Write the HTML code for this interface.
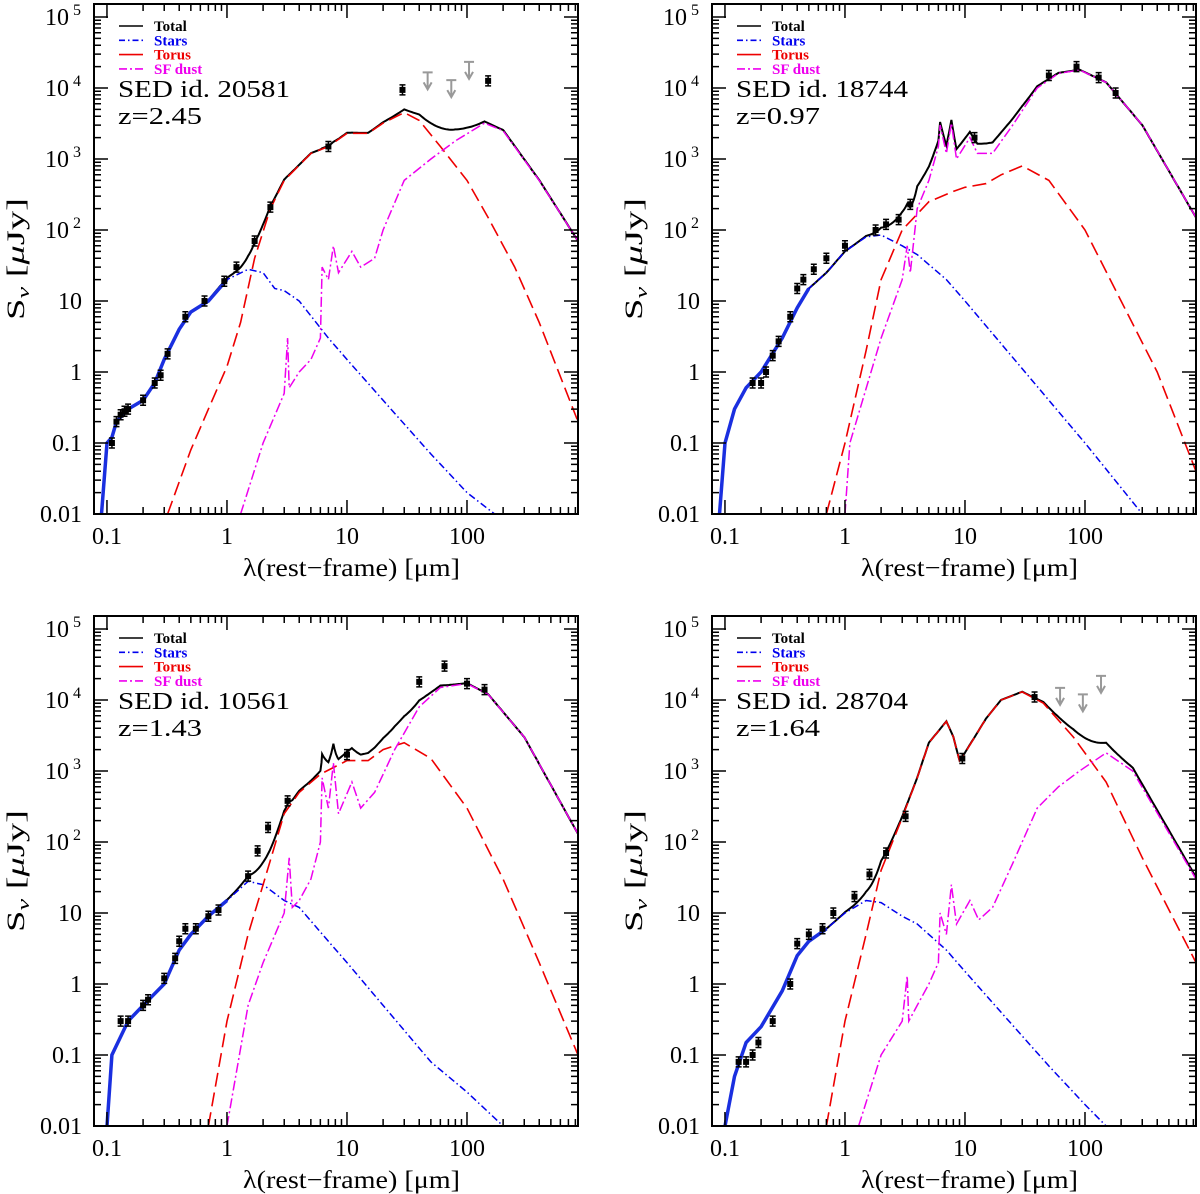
<!DOCTYPE html>
<html><head><meta charset="utf-8"><style>
html,body{margin:0;padding:0;background:#fff;}
svg{display:block;}
text{font-family:"Liberation Serif",serif;}
</style></head><body>
<svg id="chart" width="1200" height="1194" viewBox="0 0 1200 1194" xmlns="http://www.w3.org/2000/svg"></svg>
<script>
// ---------- data (lambda [um], flux [uJy]) ----------
const p1Stars=[[0.09,0.01],[0.1,0.1],[0.11,0.12],[0.12,0.2],[0.15,0.3],[0.2,0.4],[0.25,0.7],[0.3,1.5],[0.4,4],[0.5,7],[0.7,10],[1,20],[1.5,28],[2,25],[2.5,15],[3,14],[4,10],[7,3],[10,1.5],[20,0.4],[50,0.07],[100,0.02],[170,0.01]];
const p1Torus=[[0.32,0.01],[0.5,0.08],[0.7,0.3],[1,1.2],[1.3,5],[1.7,40],[2.3,200],[3,500],[5,1200],[7,1500],[10,2300],[15,2300],[20,3200],[30,4500],[40,3500],[60,1500],[100,500],[150,150],[250,30],[400,5],[841,0.2]];
const p1Dust=[[1.3,0.01],[2,0.1],[3,0.5],[3.2,3],[3.3,0.6],[4,1],[5,1.5],[6,3],[6.2,30],[7,20],[7.7,60],[8.5,25],[11,50],[13,30],[17,40],[20,100],[30,500],[50,1000],[80,1800],[140,3200],[200,2500],[400,500],[841,70]];
const p1Data=[[0.11,0.1],[0.12,0.2],[0.13,0.25],[0.14,0.28],[0.15,0.3],[0.2,0.4],[0.25,0.7],[0.28,0.9],[0.32,1.8],[0.45,6],[0.65,10],[0.95,19],[1.2,30],[1.7,70],[2.3,210],[7,1500],[29,9400],[150,12600]];
const p1Limits=[[47,16600],[74,12900],[104,23300]];

const p2Stars=[[0.09,0.01],[0.1,0.1],[0.12,0.3],[0.15,0.6],[0.2,1],[0.3,3],[0.4,8],[0.5,15],[0.7,25],[1,50],[1.5,80],[2,85],[3,60],[4,45],[7,20],[10,10],[20,2.5],[50,0.4],[100,0.1],[300,0.01]];
const p2Torus=[[0.7,0.01],[1,0.1],[1.5,2],[2,20],[3,100],[5,250],[8,350],[10,400],[15,450],[20,600],[30,800],[50,500],[100,100],[200,10],[400,1],[841,0.04]];
const p2Dust=[[1,0.01],[1.1,0.1],[2,3],[3,20],[3.3,60],[3.5,25],[4,200],[5,500],[6,1500],[6.2,3000],[7,1200],[7.7,3200],[8.5,1000],[11,2000],[12.7,1200],[17,1200],[25,3000],[40,10000],[60,16000],[90,18000],[150,12000],[300,3000],[841,150]];
const p2Data=[[0.17,0.7],[0.2,0.7],[0.22,1],[0.25,1.7],[0.28,2.7],[0.35,6],[0.4,15],[0.45,20],[0.55,28],[0.7,40],[1,60],[1.8,100],[2.2,120],[2.8,140],[3.5,230],[12,2000],[50,15000],[85,20000],[130,14000],[180,8500]];
const p2Limits=[];

const p3Stars=[[0.1,0.01],[0.11,0.1],[0.15,0.3],[0.2,0.5],[0.3,1],[0.4,3],[0.5,5],[0.7,9],[1,15],[1.5,28],[2,25],[3,15],[4,12],[7,4],[10,2],[20,0.5],[50,0.08],[100,0.03],[200,0.01]];
const p3Torus=[[0.7,0.01],[1,0.3],[1.5,5],[2,25],[3,250],[4,500],[6,900],[10,1400],[15,1400],[20,2000],[30,2500],[50,1500],[100,300],[200,30],[400,2],[841,0.1]];
const p3Dust=[[1,0.01],[1.5,0.5],[2,2],[3,10],[3.3,60],[3.5,12],[4,15],[5,30],[6,100],[6.2,800],[7,300],[7.7,1300],[8.5,250],[11,700],[13,300],[17,500],[25,2000],[40,8000],[60,15000],[100,17000],[150,12000],[300,3000],[841,130]];
const p3Data=[[0.13,0.3],[0.15,0.3],[0.2,0.5],[0.22,0.6],[0.3,1.2],[0.37,2.3],[0.4,4],[0.45,6],[0.55,6],[0.7,9],[0.85,11],[1.5,33],[1.8,75],[2.2,160],[3.2,380],[10,1700],[40,18000],[65,30000],[100,17000],[140,14000]];
const p3Limits=[];

const p4Stars=[[0.1,0.01],[0.12,0.05],[0.15,0.15],[0.2,0.25],[0.3,0.8],[0.4,2.5],[0.5,4],[0.7,6],[1,10],[1.5,15],[2,14],[3,9],[4,7],[7,3],[10,1.5],[20,0.4],[50,0.07],[100,0.02],[150,0.01]];
const p4Torus=[[0.7,0.01],[1,0.3],[1.5,5],[2,40],[3,220],[4,800],[5,2500],[7,5000],[8,3000],[9,1400],[10,1800],[15,5500],[20,10000],[30,13000],[45,9000],[80,3000],[150,700],[300,60],[841,2]];
const p4Dust=[[1.3,0.01],[2,0.1],[3,0.3],[3.3,1.3],[3.4,0.3],[4,0.5],[5,1],[6,2],[6.2,10],[7,5],[7.7,25],[8.5,7],[11,15],[13,8],[17,12],[25,50],[40,300],[60,600],[90,1000],[150,1800],[250,1000],[841,30]];
const p4Data=[[0.13,0.08],[0.15,0.08],[0.17,0.1],[0.19,0.15],[0.25,0.3],[0.35,1],[0.4,3.7],[0.5,5],[0.65,6],[0.8,10],[1.2,17],[1.6,35],[2.2,70],[3.2,230],[9.5,1500],[38,11000]];
const p4Limits=[[62,14800],[96,12000],[136,21900]];

const panelIds=["20581","18744","10561","28704"];
const panelZ=["2.45","0.97","1.43","1.64"];

const NS="http://www.w3.org/2000/svg";
const svg=document.getElementById('chart');
function mk(tag,attrs,parent){const e=document.createElementNS(NS,tag);for(const k in attrs)e.setAttribute(k,attrs[k]);(parent||svg).appendChild(e);return e;}

const W=484,H=510,LXMIN=-1.108,LXMAX=2.925,LYMIN=-2,LYMAX=-2+510/71;
const panels=[
 {ox:94,oy:4,stars:p1Stars,torus:p1Torus,dust:p1Dust,data:p1Data,lim:p1Limits,solid:1.0},
 {ox:712,oy:4,stars:p2Stars,torus:p2Torus,dust:p2Dust,data:p2Data,lim:p2Limits,solid:0.6},
 {ox:94,oy:616,stars:p3Stars,torus:p3Torus,dust:p3Dust,data:p3Data,lim:p3Limits,solid:1.0},
 {ox:712,oy:616,stars:p4Stars,torus:p4Torus,dust:p4Dust,data:p4Data,lim:p4Limits,solid:0.9}
];
function interp(arr,l){
  if(l<arr[0][0]||l>arr[arr.length-1][0])return 0;
  for(let i=0;i<arr.length-1;i++){const a=arr[i],b=arr[i+1];
    if(l>=a[0]&&l<=b[0]){const t=(Math.log10(l)-Math.log10(a[0]))/(Math.log10(b[0])-Math.log10(a[0]));
      return Math.pow(10,Math.log10(a[1])+t*(Math.log10(b[1])-Math.log10(a[1])));}}
  return 0;
}
panels.forEach((p,pi)=>{
  const g=mk('g',{},svg);
  
  
  const xs=l=>p.ox+(Math.log10(l)-LXMIN)/(LXMAX-LXMIN)*W;
  const ys=v=>p.oy+H-(Math.log10(v)-LYMIN)/(LYMAX-LYMIN)*H;
  const cid='clip'+pi;
  const cp=mk('clipPath',{id:cid},g);mk('rect',{x:p.ox,y:p.oy,width:W,height:H},cp);
  const cg=mk('g',{'clip-path':'url(#'+cid+')'},g);
  const path=arr=>arr.filter(d=>d[1]>0).map((d,i)=>(i?'L':'M')+xs(d[0]).toFixed(1)+' '+ys(d[1]).toFixed(1)).join(' ');
  let ls=new Set();p.stars.concat(p.torus,p.dust).forEach(d=>ls.add(d[0]));
  for(let i=0;i<=300;i++)ls.add(Math.pow(10,LXMIN+i*(LXMAX-LXMIN)/300));
  const lam=[...ls].sort((a,b)=>a-b);
  const tot=lam.map(l=>[l,interp(p.stars,l)+interp(p.torus,l)+interp(p.dust,l)]);
  const t=mk('path',{d:path(tot),fill:'none',stroke:'#000','stroke-width':2},cg);
  
  const s=mk('path',{d:path(p.stars),fill:'none',stroke:'#0000ee','stroke-width':1.5,'stroke-dasharray':'7 3 1.5 3'},cg);
  
  const ss=mk('path',{d:path(p.stars.filter(d=>d[0]<=p.solid)),fill:'none',stroke:'#1a2fe0','stroke-width':3.5},cg);
  
  const to=mk('path',{d:path(p.torus),fill:'none',stroke:'#ee0000','stroke-width':1.6,'stroke-dasharray':'14 6'},cg);
  
  const du=mk('path',{d:path(p.dust),fill:'none',stroke:'#ee00ee','stroke-width':1.5,'stroke-dasharray':'10 3 2 3'},cg);
  
  p.data.forEach(d=>{
    const x=xs(d[0]),y=ys(d[1]),e=5;
    const pg=mk('g',{},cg);
    
    mk('path',{d:`M${x} ${y-e}L${x} ${y+e}M${x-3} ${y-e}L${x+3} ${y-e}M${x-3} ${y+e}L${x+3} ${y+e}`,stroke:'#000','stroke-width':1.5,fill:'none'},pg);
    mk('rect',{x:x-3,y:y-3,width:6,height:6,fill:'#000'},pg);
  });
  p.lim.forEach(d=>{
    const x=xs(d[0]),y=ys(d[1]);
    const lg=mk('g',{},cg);
    
    mk('path',{d:`M${x-5} ${y}L${x+5} ${y}M${x} ${y}L${x} ${y+17}M${x-4} ${y+10}L${x} ${y+17}L${x+4} ${y+10}`,stroke:'#999','stroke-width':2,fill:'none'},lg);
  });
  const fr=mk('rect',{x:p.ox,y:p.oy,width:W,height:H,fill:'none',stroke:'#000','stroke-width':2},g);
  
  let tk='';
  for(let dec=-1;dec<=2;dec++)for(let m=1;m<=9;m++){
    const l=m*Math.pow(10,dec);const lv=Math.log10(l);if(lv<LXMIN||lv>LXMAX)continue;
    const x=xs(l),len=m===1?14:7;
    tk+=`M${x} ${p.oy+H}L${x} ${p.oy+H-len}M${x} ${p.oy}L${x} ${p.oy+len}`;
  }
  for(let dec=-2;dec<=5;dec++)for(let m=1;m<=9;m++){
    const v=m*Math.pow(10,dec);const lv=Math.log10(v);if(lv<LYMIN||lv>LYMAX)continue;
    const y=ys(v),len=m===1?14:7;
    tk+=`M${p.ox} ${y}L${p.ox+len} ${y}M${p.ox+W} ${y}L${p.ox+W-len} ${y}`;
  }
  mk('path',{d:tk,stroke:'#000','stroke-width':1.5,fill:'none'},g);
  const xl=["0.1","1","10","100"];
  xl.forEach((s,i)=>{const tx=mk('text',{x:xs(Math.pow(10,i-1)),y:p.oy+H+30,'font-size':24,'text-anchor':'middle'},g);tx.textContent=s;
    });
  const yl=["0.01","0.1","1","10"];
  yl.forEach((s,i)=>{const tx=mk('text',{x:p.ox-12,y:ys(Math.pow(10,i-2))+8,'font-size':24,'text-anchor':'end'},g);tx.textContent=s;
    });
  [2,3,4,5].forEach(e=>{const tx=mk('text',{x:p.ox-25,y:ys(Math.pow(10,e))+8,'font-size':24,'text-anchor':'end'},g);tx.textContent='10';
    
    const sp=mk('text',{x:p.ox-13,y:ys(Math.pow(10,e))-2,'font-size':16,'text-anchor':'end'},g);sp.textContent=String(e);
    });
  const xt=mk('text',{x:p.ox+149,y:p.oy+H+62,'font-size':25,textLength:217,lengthAdjust:'spacingAndGlyphs'},g);
  xt.textContent='λ(rest−frame) [μm]';
  
  const yt=mk('text',{transform:`translate(${p.ox-70},${p.oy+255}) rotate(-90)`,'font-size':25,'text-anchor':'middle',textLength:122,lengthAdjust:'spacingAndGlyphs'},g);
  yt.innerHTML='S<tspan font-size="17" dy="5" font-style="italic">ν</tspan><tspan dy="-5"> [</tspan><tspan font-style="italic">μ</tspan>Jy]';
  
  const leg=[['Total','#000',''],['Stars','#0000ee','6 3 1.5 3'],['Torus','#ee0000',''],['SF dust','#ee00ee','8 3 2 3']];
  leg.forEach((e,i)=>{
    const ly=p.oy+27+i*14.3;
    const lg=mk('g',{},g);
    
    mk('line',{x1:p.ox+25,x2:p.ox+49,y1:ly-5,y2:ly-5,stroke:e[1],'stroke-width':1.6,'stroke-dasharray':e[2]},lg);
    const tx=mk('text',{x:p.ox+60,y:ly,'font-size':15,'font-weight':'bold',fill:e[1]},lg);tx.textContent=e[0];
  });
  const l1=mk('text',{x:p.ox+24,y:p.oy+93,'font-size':24,textLength:172,lengthAdjust:'spacingAndGlyphs'},g);l1.textContent='SED id. '+panelIds[pi];
  
  const l2=mk('text',{x:p.ox+24,y:p.oy+120,'font-size':24,textLength:84,lengthAdjust:'spacingAndGlyphs'},g);l2.textContent='z='+panelZ[pi];
  
});
</script>
</body></html>
